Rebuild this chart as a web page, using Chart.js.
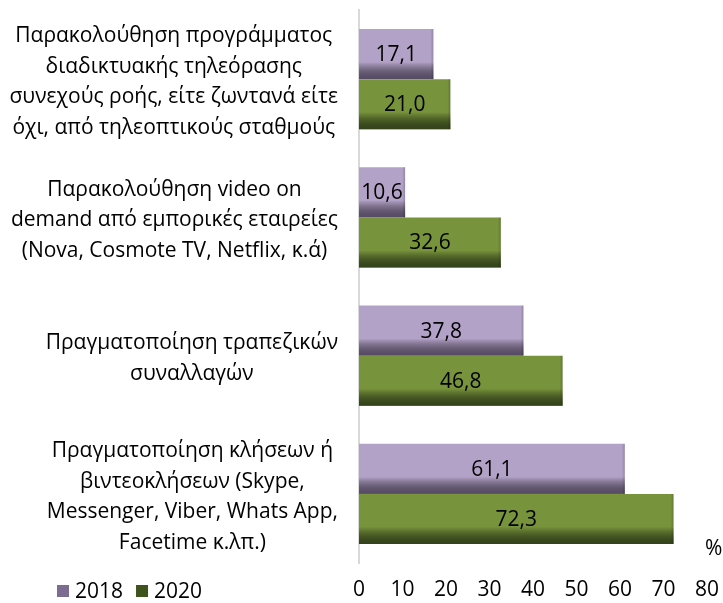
<!DOCTYPE html>
<html>
<head>
<meta charset="utf-8">
<script src="https://cdn.jsdelivr.net/npm/chart.js@4/dist/chart.umd.min.js"></script>
<style>
  html, body { margin: 0; padding: 0; background: #fff; }
  #wrap { width: 723px; height: 603px; position: relative; }
</style>
</head>
<body>
<div id="wrap"><canvas id="c"></canvas></div>
<script>
const categories = [
  ["Παρακολούθηση προγράμματος", "διαδικτυακής τηλεόρασης", "συνεχούς ροής, είτε ζωντανά είτε", "όχι, από τηλεοπτικούς σταθμούς"],
  ["Παρακολούθηση video on", "demand από εμπορικές εταιρείες", "(Nova, Cosmote TV, Netflix, κ.ά)"],
  ["Πραγματοποίηση τραπεζικών", "συναλλαγών"],
  ["Πραγματοποίηση κλήσεων ή", "βιντεοκλήσεων (Skype,", "Messenger, Viber, Whats App,", "Facetime κ.λπ.)"]
];
const seriesNames = ["2018", "2020"];
const values2018 = [17.1, 10.6, 37.8, 61.1];
const values2020 = [21.0, 32.6, 46.8, 72.3];
const xTicks = [0, 10, 20, 30, 40, 50, 60, 70, 80];
const unitLabel = "%";

const FONT = "'Open Sans', 'Noto Sans', sans-serif";
const FS = 21;

const colors = {
  s2018: { main: "#B3A2C7", dark: "#574A66", legend: "#7D6C92" },
  s2020: { main: "#77933C", dark: "#33431A", legend: "#3F531D" }
};

function fmt(v) { return v.toFixed(1).replace(".", ","); }

const barEffects = {
  id: "barEffects",
  afterDatasetsDraw(chart) {
    const ctx = chart.ctx;
    chart.data.datasets.forEach((ds, di) => {
      const meta = chart.getDatasetMeta(di);
      meta.data.forEach((el, i) => {
        const p = el.getProps(["x", "y", "base", "height"], true);
        const top = p.y - p.height / 2, bot = p.y + p.height / 2;
        const left = Math.min(p.base, p.x), right = Math.max(p.base, p.x);
        const g = ctx.createLinearGradient(0, top, 0, bot);
        g.addColorStop(0, "rgba(0,0,0,0)");
        g.addColorStop(0.66, "rgba(0,0,0,0)");
        g.addColorStop(1, ds.shadeColor);
        ctx.save();
        ctx.fillStyle = g;
        ctx.fillRect(left, top, right - left, bot - top);
        const g2 = ctx.createLinearGradient(right - 3, 0, right, 0);
        g2.addColorStop(0, "rgba(0,0,0,0)");
        g2.addColorStop(1, "rgba(0,0,0,0.18)");
        ctx.fillStyle = g2;
        ctx.fillRect(right - 3, top, 3, bot - top);
        ctx.fillStyle = "#000";
        ctx.font = FS + "px " + FONT;
        ctx.textAlign = "center";
        ctx.textBaseline = "middle";
        ctx.fillText(fmt(ds.data[i]), (left + right) / 2, p.y + 1);
        ctx.restore();
      });
    });
  }
};

const sideText = {
  id: "sideText",
  afterDraw(chart) {
    const ctx = chart.ctx;
    const ys = chart.scales.y;
    const xs = chart.scales.x;
    ctx.save();
    ctx.font = FS + "px " + FONT;
    ctx.fillStyle = "#000";
    ctx.textBaseline = "middle";
    ctx.textAlign = "center";
    const rightEdge = 338;
    const lh = 30.7;
    chart.data.labels.forEach((lines, i) => {
      const cy = ys.getPixelForValue(i) + 3;
      let maxW = 0;
      lines.forEach(l => { maxW = Math.max(maxW, ctx.measureText(l).width); });
      const cx = rightEdge - maxW / 2;
      const y0 = cy - (lines.length - 1) * lh / 2;
      lines.forEach((l, k) => ctx.fillText(l, cx, y0 + k * lh));
    });
    ctx.textAlign = "left";
    ctx.fillText(unitLabel, xs.right - 2, ys.bottom - 14);
    let x = 57;
    const ly = 591;
    chart.data.datasets.forEach(ds => {
      ctx.fillStyle = ds.legendColor;
      ctx.fillRect(x, ly - 6, 12, 12);
      ctx.fillStyle = "#000";
      ctx.textAlign = "left";
      ctx.fillText(ds.label, x + 18, ly + 1);
      x += 18 + ctx.measureText(ds.label).width + 13;
    });
    ctx.restore();
  }
};

new Chart(document.getElementById("c"), {
  type: "bar",
  data: {
    labels: categories,
    datasets: [
      { label: seriesNames[0], data: values2018, backgroundColor: colors.s2018.main, shadeColor: colors.s2018.dark, legendColor: colors.s2018.legend, borderWidth: 0 },
      { label: seriesNames[1], data: values2020, backgroundColor: colors.s2020.main, shadeColor: colors.s2020.dark, legendColor: colors.s2020.legend, borderWidth: 0 }
    ]
  },
  options: {
    indexAxis: "y",
    responsive: true,
    maintainAspectRatio: false,
    animation: false,
    categoryPercentage: 0.725,
    barPercentage: 1.0,
    layout: { padding: { top: 10, right: 16, left: 0, bottom: 0 } },
    plugins: { legend: { display: false }, tooltip: { enabled: false } },
    scales: {
      x: {
        min: xTicks[0], max: xTicks[xTicks.length - 1],
        afterBuildTicks(scale) { scale.ticks = xTicks.map(v => ({ value: v })); },
        grid: { display: false, drawTicks: false },
        border: { display: false },
        ticks: { color: "#000", font: { family: FONT, size: FS }, padding: 14, maxRotation: 0, autoSkip: false },
        afterFit(scale) { scale.height = 40; scale.paddingLeft = 0; scale.paddingRight = 0; }
      },
      y: {
        grid: { display: false, drawTicks: false },
        border: { display: true, color: "#D9D9D9", width: 2 },
        ticks: { display: false },
        afterFit(scale) { scale.width = 359; }
      }
    }
  },
  plugins: [barEffects, sideText]
});
</script>
</body>
</html>
